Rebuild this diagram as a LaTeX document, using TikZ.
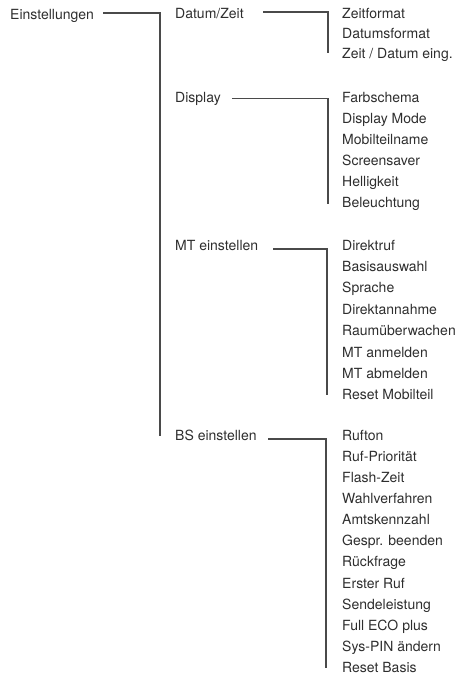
\documentclass[tikz,border=0pt]{standalone}
\usepackage{fontspec}
\setmainfont{TeX Gyre Heros}
\definecolor{txtc}{HTML}{2E2E2E}
\definecolor{linec}{HTML}{4A4A4A}
\begin{document}
\begin{tikzpicture}[x=1pt,y=-1pt,
  lbl/.style={anchor=base west,inner sep=0pt,font=\fontsize{14}{16}\selectfont,text=txtc},
  conn/.style={draw=linec,line width=1.2pt}]
\useasboundingbox (0,0) rectangle (460,677);
% level 1
\node[lbl] (ein) at (10,19.5) {Einstellungen};
% level 2
\node[lbl] (dz) at (175,18.5) {Datum/Zeit};
\node[lbl] (disp) at (175,102.7) {Display};
\node[lbl] (mt) at (175,250) {MT einstellen};
\node[lbl] (bs) at (175,440) {BS einstellen};
% level 3: Datum/Zeit
\node[lbl] (d1) at (342,18.5) {Zeitformat};
\node[lbl] (d2) at (342,38.5) {Datumsformat};
\node[lbl] (d3) at (342,58.2) {Zeit / Datum eing.};
% Display
\node[lbl] (p1) at (342,102.7) {Farbschema};
\node[lbl] (p2) at (342,123.7) {Display Mode};
\node[lbl] (p3) at (342,144.7) {Mobilteilname};
\node[lbl] (p4) at (342,165.6) {Screensaver};
\node[lbl] (p5) at (342,186.6) {Helligkeit};
\node[lbl] (p6) at (342,207.5) {Beleuchtung};
% MT einstellen
\node[lbl] (m1) at (342,250) {Direktruf};
\node[lbl] (m2) at (342,271.4) {Basisauswahl};
\node[lbl] (m3) at (342,292.8) {Sprache};
\node[lbl] (m4) at (342,314.2) {Direktannahme};
\node[lbl] (m5) at (342,335.6) {Raumüberwachen};
\node[lbl] (m6) at (342,357) {MT anmelden};
\node[lbl] (m7) at (342,378.4) {MT abmelden};
\node[lbl] (m8) at (342,399.8) {Reset Mobilteil};
% BS einstellen
\node[lbl] (b1) at (342,440) {Rufton};
\node[lbl] (b2) at (342,461.2) {Ruf-Priorität};
\node[lbl] (b3) at (342,482.3) {Flash-Zeit};
\node[lbl] (b4) at (342,503.5) {Wahlverfahren};
\node[lbl] (b5) at (342,524.6) {Amtskennzahl};
\node[lbl] (b6) at (342,545.8) {Gespr. beenden};
\node[lbl] (b7) at (342,566.9) {Rückfrage};
\node[lbl] (b8) at (342,588.1) {Erster Ruf};
\node[lbl] (b9) at (342,609.2) {Sendeleistung};
\node[lbl] (b10) at (342,630.4) {Full ECO plus};
\node[lbl] (b11) at (342,651.5) {Sys-PIN ändern};
\node[lbl] (b12) at (342,672.7) {Reset Basis};
% junction coordinates
\coordinate (j1) at (160,13);
\coordinate (j1e) at (160,436);
\coordinate (jd) at (328,12);
\coordinate (jde) at (328,53.5);
\coordinate (jp) at (328,98.5);
\coordinate (jpe) at (328,204);
\coordinate (jm) at (327,249);
\coordinate (jme) at (327,395);
\coordinate (jb) at (326,439);
\coordinate (jbe) at (326,668);
% connectors
\draw[conn] ([xshift=9pt]ein.base east |- j1) -- (j1) -- (j1e);
\draw[conn] ([xshift=19.5pt]dz.base east |- jd) -- (jd) -- (jde);
\draw[conn] ([xshift=11pt]disp.base east |- jp) -- (jp) -- (jpe);
\draw[conn] ([xshift=15pt]mt.base east |- jm) -- (jm) -- (jme);
\draw[conn] ([xshift=11.3pt]bs.base east |- jb) -- (jb) -- (jbe);
\end{tikzpicture}
\end{document}
